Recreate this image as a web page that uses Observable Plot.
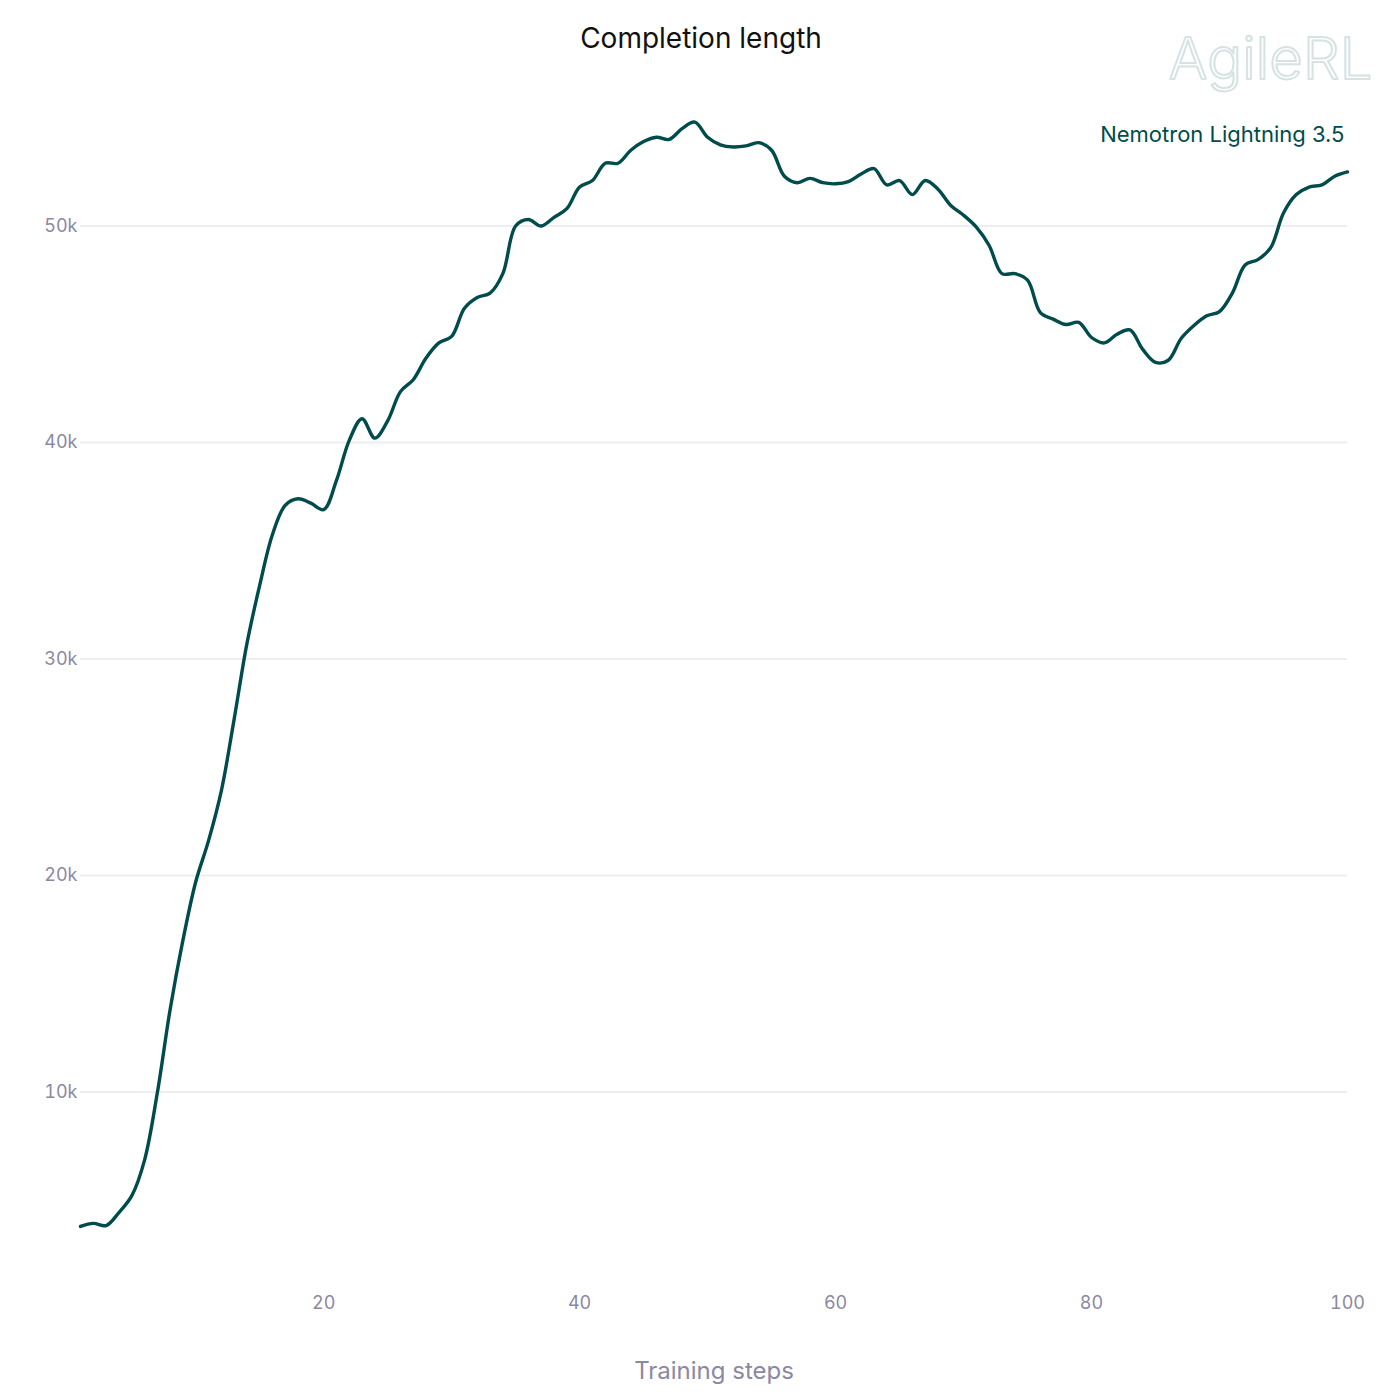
<!DOCTYPE html>
<html>
<head>
<meta charset="utf-8">
<script src="https://cdn.jsdelivr.net/npm/d3@7"></script>
<script src="https://cdn.jsdelivr.net/npm/@observablehq/plot@0.6"></script>
<style>
  html, body { margin: 0; padding: 0; background: #ffffff; }
  #chart { width: 1400px; height: 1400px; }
  svg { font-family: Inter, "Noto Sans", sans-serif; }
</style>
</head>
<body>
<div id="chart"></div>
<script>
// ---- data ----
const seriesName = "Nemotron Lightning 3.5";
const chartTitle = "Completion length";
const xLabel = "Training steps";
const logoText = "AgileRL";
const steps = d3.range(1, 101);
const completionLength = [
  3790, 3930, 3830, 4430, 5200, 6840, 9950, 13800, 17000, 19700,
  21600, 23900, 27200, 30700, 33400, 35750, 37100, 37400, 37200, 36900,
  38250, 40100, 41100, 40200, 41000, 42350, 42900, 43900, 44600, 44900,
  46200, 46700, 46900, 47800, 50000, 50300, 50000, 50400, 50800, 51800,
  52100, 52900, 52900, 53500, 53900, 54100, 54000, 54500, 54800, 54100,
  53750, 53650, 53700, 53850, 53500, 52300, 52000, 52200, 52000, 51950,
  52050, 52400, 52650, 51900, 52100, 51450, 52100, 51700, 50950, 50500,
  49950, 49100, 47800, 47800, 47500, 46000, 45700, 45450, 45550, 44850,
  44600, 45000, 45200, 44300, 43700, 43800, 44800, 45400, 45850, 46050,
  46900, 48200, 48450, 49000, 50600, 51450, 51800, 51900, 52300, 52500
];
const xTicks = [20, 40, 60, 80, 100];
const yTicks = [10000, 20000, 30000, 40000, 50000];
const yTickLabels = ["10k", "20k", "30k", "40k", "50k"];

const data = steps.map((s, i) => ({step: s, value: completionLength[i]}));

const lineColor = "#004b4b";
const axisColor = "#8b88a3";

const chart = Plot.plot({
  width: 1400,
  height: 1400,
  marginLeft: 80,
  marginRight: 53,
  marginTop: 100,
  marginBottom: 115,
  style: {fontFamily: "Inter, 'Noto Sans', sans-serif", background: "#ffffff"},
  x: {domain: [1, 100], ticks: xTicks, label: null},
  y: {domain: [1062, 55797], ticks: yTicks, label: null},
  marks: [
    Plot.ruleY(yTicks, {stroke: "#eeeef1", strokeWidth: 2}),
    Plot.axisY({
      ticks: yTicks,
      tickSize: 0,
      tickPadding: 3,
      tickFormat: (d) => yTickLabels[yTicks.indexOf(d)],
      fill: axisColor,
      fontSize: 18,
      label: null
    }),
    Plot.axisX({
      ticks: xTicks,
      tickSize: 0,
      tickPadding: 11,
      fill: axisColor,
      fontSize: 18,
      label: null
    }),
    Plot.line(data, {
      x: "step",
      y: "value",
      stroke: lineColor,
      strokeWidth: 3.4,
      curve: "catmull-rom"
    }),
    Plot.text([chartTitle], {
      frameAnchor: "top",
      dx: -13,
      dy: -61,
      fontSize: 28,
      fill: "#111111",
      lineAnchor: "middle"
    }),
    Plot.text([xLabel], {
      frameAnchor: "bottom",
      dy: 86,
      fontSize: 24,
      fill: axisColor,
      lineAnchor: "middle"
    }),
    Plot.text([seriesName], {
      frameAnchor: "top-right",
      textAnchor: "end",
      dx: -3,
      dy: 34,
      fontSize: 22,
      fill: lineColor,
      lineAnchor: "middle"
    }),
    Plot.text([logoText], {
      frameAnchor: "top-right",
      textAnchor: "end",
      dx: 25,
      dy: -40,
      fontSize: 58,
      fontWeight: 300,
      fill: "none",
      stroke: "#d6e3e3",
      strokeWidth: 2,
      lineAnchor: "middle"
    })
  ]
});

document.getElementById("chart").appendChild(chart);
</script>
</body>
</html>
